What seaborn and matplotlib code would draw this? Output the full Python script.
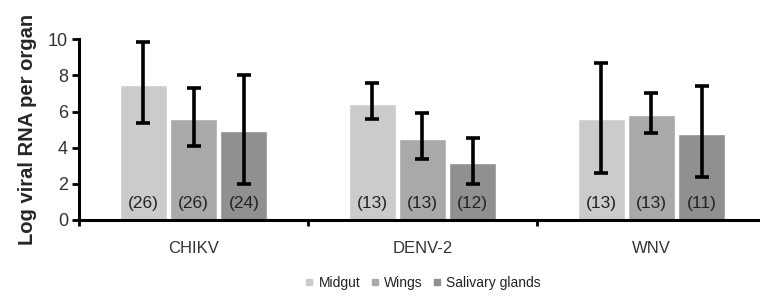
import numpy as np
import pandas as pd
import matplotlib
matplotlib.use("Agg")
import matplotlib.pyplot as plt
from matplotlib.lines import Line2D
import seaborn as sns

# values
viruses = ["CHIKV", "DENV-2", "WNV"]
organs = ["Midgut", "Wings", "Salivary glands"]
mean_midgut = [7.49, 6.44, 5.57]
mean_wings = [5.59, 4.50, 5.81]
mean_salivary = [4.94, 3.14, 4.76]
upper_midgut = [9.87, 7.56, 8.67]
upper_wings = [7.33, 5.94, 7.05]
upper_salivary = [8.04, 4.54, 7.42]
lower_midgut = [5.37, 5.61, 2.62]
lower_wings = [4.07, 3.36, 4.80]
lower_salivary = [2.00, 2.01, 2.40]
n_midgut = [26, 13, 13]
n_wings = [26, 13, 13]
n_salivary = [24, 12, 11]

colors = ["#cbcbcb", "#a9a9a9", "#909090"]

means = [mean_midgut, mean_wings, mean_salivary]
uppers = [upper_midgut, upper_wings, upper_salivary]
lowers = [lower_midgut, lower_wings, lower_salivary]
counts = [n_midgut, n_wings, n_salivary]

rows = []
for organ, vals in zip(organs, means):
    for virus, v in zip(viruses, vals):
        rows.append({"virus": virus, "organ": organ, "value": v})
df = pd.DataFrame(rows)

sns.set_style("white")
plt.rcParams["font.family"] = ["Liberation Sans", "DejaVu Sans"]

fig = plt.figure(figsize=(7.6, 2.96), dpi=100)
ax = fig.add_axes([0.104, 0.257, 0.896, 0.61])

sns.barplot(data=df, x="virus", y="value", hue="organ", order=viruses,
            hue_order=organs, palette=colors, width=0.66, gap=0.07,
            errorbar=None, legend=False, saturation=1, ax=ax)

# error bars and sample sizes
bar_groups = list(ax.containers)
for i, cont in enumerate(bar_groups):
    for j, bar in enumerate(cont.patches):
        xc = bar.get_x() + bar.get_width() / 2
        m = means[i][j]
        ax.errorbar(xc, m, yerr=[[m - lowers[i][j]], [uppers[i][j] - m]],
                    fmt="none", ecolor="black", elinewidth=2.6, capsize=5,
                    capthick=2.6, zorder=5)
        ax.text(xc, 0.5, f"({counts[i][j]})", ha="center", va="bottom",
                fontsize=12.5, color="#222222", zorder=6)

ax.set_ylim(0, 10)
ax.set_xlim(-0.5, 2.474)
ax.set_yticks([0, 2, 4, 6, 8, 10])
ax.set_xlabel("")
ax.set_ylabel("Log viral RNA per organ", fontsize=14.5, fontweight="bold", labelpad=8)
ax.set_xticks([0, 1, 2])
ax.set_xticks([-0.5, 0.5, 1.5], minor=True)
ax.tick_params(axis="x", which="major", length=0, pad=15, labelsize=12, labelcolor="#333333")
ax.tick_params(axis="x", which="minor", direction="out", length=4, width=2, color="black", bottom=True)
ax.tick_params(axis="y", direction="out", length=5, width=2, color="black", left=True,
               labelsize=13, labelcolor="#333333", pad=3)

sns.despine(ax=ax, top=True, right=True)
for side in ["left", "bottom"]:
    ax.spines[side].set_linewidth(2.2)
    ax.spines[side].set_color("black")

handles = [Line2D([0], [0], marker="s", linestyle="none", markersize=4,
                  markerfacecolor=c, markeredgecolor=c, label=o)
           for c, o in zip(colors, organs)]
fig.legend(handles=handles, loc="center", bbox_to_anchor=(0.556, 0.045), ncol=3,
           frameon=False, fontsize=10, handlelength=0.7, handletextpad=0.3,
           columnspacing=0.7, labelcolor="#222222")

fig.savefig("out.png", dpi=100)
